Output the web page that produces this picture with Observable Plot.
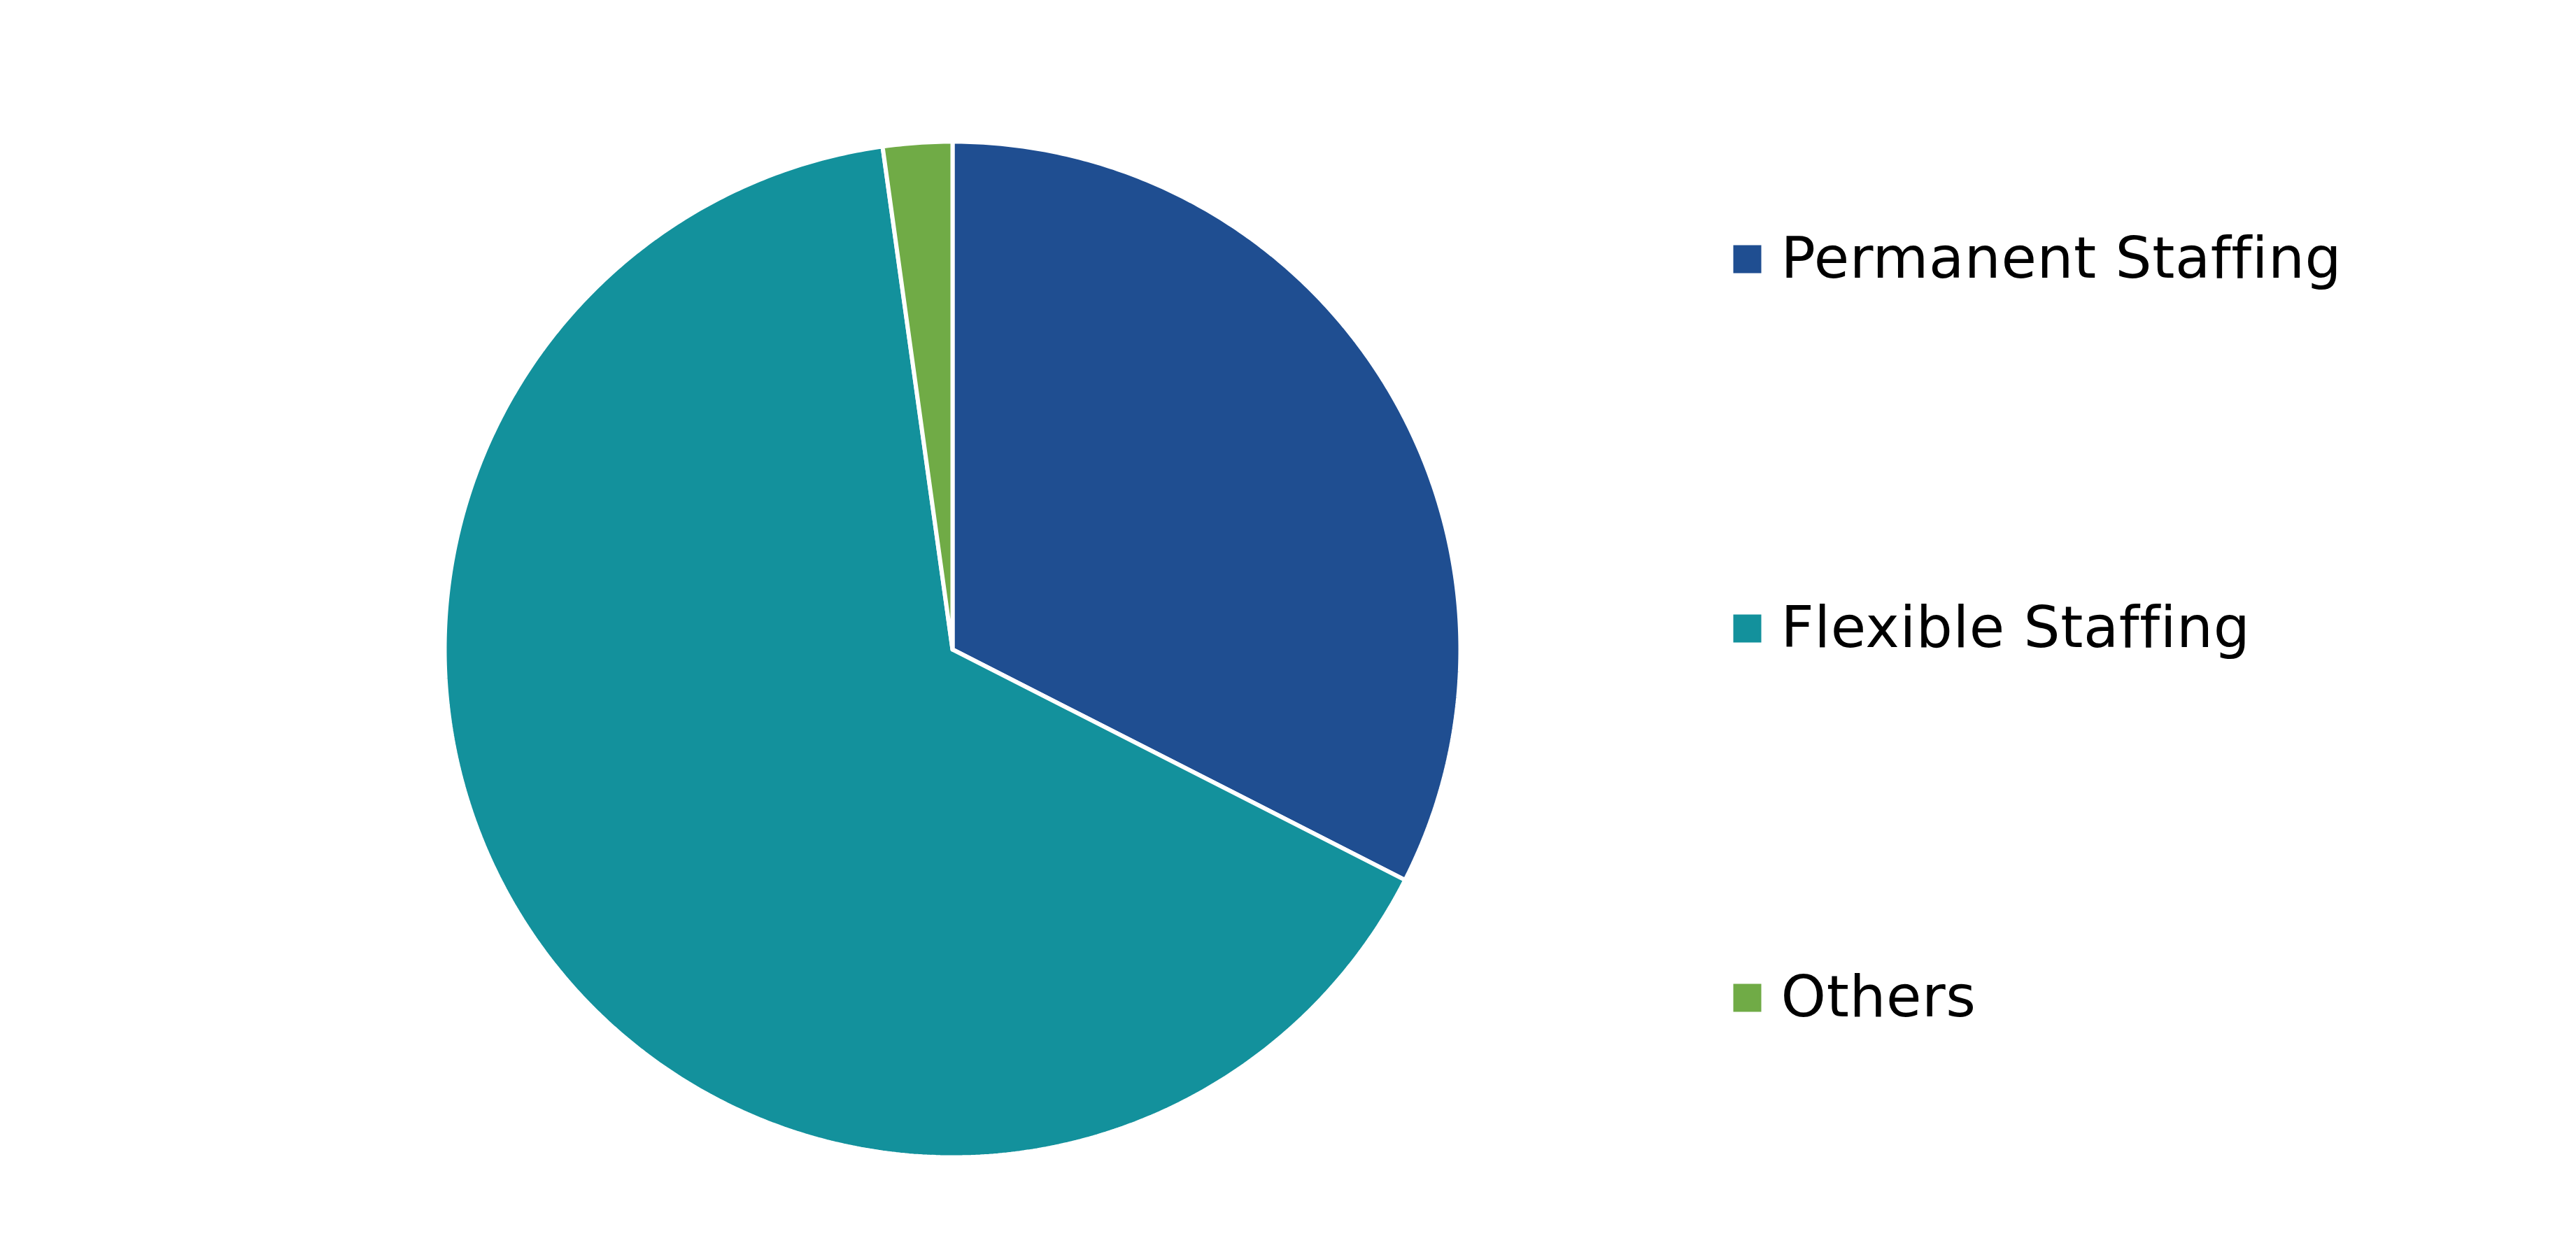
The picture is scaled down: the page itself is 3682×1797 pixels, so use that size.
<!DOCTYPE html>
<html>
<head>
<meta charset="utf-8">
<script src="https://cdn.jsdelivr.net/npm/d3@7"></script>
<script src="https://cdn.jsdelivr.net/npm/@observablehq/plot@0.6"></script>
<style>
  html, body { margin: 0; padding: 0; background: #ffffff; }
  #chart svg { display: block; }
  #chart text { font-variant-ligatures: none; font-feature-settings: "liga" 0; letter-spacing: 0.6px; }
</style>
</head>
<body>
<div id="chart"></div>
<script>
// ---- data ----
const categories = ["Permanent Staffing", "Flexible Staffing", "Others"];
const shares = [32.5, 65.3, 2.2];
const colors = ["#1F4E91", "#13919C", "#70AB46"];

// ---- layout (pixels) ----
const W = 3682, H = 1797;
const cx = 1361, cy = 928, R = 726;
const legendSquareX = 2497, legendTextX = 2545, legendTop = 370, legendStep = 528;

// data units: pie radius = 1
const xDomain = [-cx / R, (W - cx) / R];
const yDomain = [-(H - cy) / R, cy / R];
const toUx = px => (px - cx) / R;
const toUy = py => (cy - py) / R;

// slices via d3.pie (clockwise from top, in data order)
const pie = d3.pie().sort(null).value(d => d.value);
const arcs = pie(categories.map((c, i) => ({cat: c, value: shares[i]})));

const slicePts = [];
for (const a of arcs) {
  const cat = a.data.cat;
  slicePts.push({cat, x: 0, y: 0});
  const n = Math.max(2, Math.ceil((a.endAngle - a.startAngle) / (Math.PI / 360)));
  for (let k = 0; k <= n; k++) {
    const t = a.startAngle + (a.endAngle - a.startAngle) * k / n;
    slicePts.push({cat, x: Math.sin(t), y: Math.cos(t)});
  }
  slicePts.push({cat, x: 0, y: 0});
}

const legend = categories.map((c, i) => ({
  cat: c,
  x: toUx(legendSquareX),
  tx: toUx(legendTextX),
  y: toUy(legendTop + legendStep * i)
}));

const chart = Plot.plot({
  width: W,
  height: H,
  margin: 0,
  x: {domain: xDomain, axis: null},
  y: {domain: yDomain, axis: null},
  color: {domain: categories, range: colors},
  marks: [
    Plot.line(slicePts, {
      x: "x", y: "y", z: "cat", fill: "cat",
      stroke: "white", strokeWidth: 6, strokeLinejoin: "miter", curve: "linear"
    }),
    Plot.dot(legend, {
      x: "x", y: "y", fill: "cat", symbol: "square", r: 40 / Math.sqrt(Math.PI), stroke: null
    }),
    Plot.text(legend, {
      x: "tx", y: "y", text: "cat", textAnchor: "start", lineAnchor: "middle",
      fontSize: 82, fontFamily: "DejaVu Sans", fill: "black"
    })
  ]
});
document.getElementById("chart").appendChild(chart);
</script>
</body>
</html>
